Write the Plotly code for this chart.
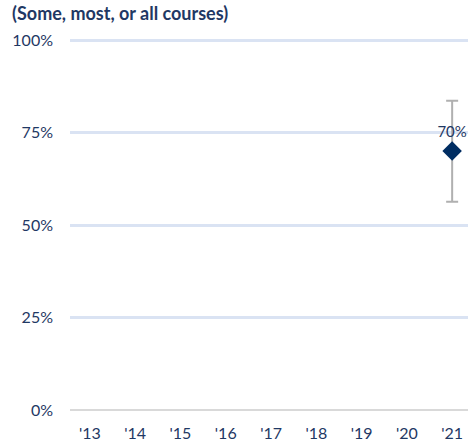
import plotly.graph_objects as go

years = [2013, 2014, 2015, 2016, 2017, 2018, 2019, 2020, 2021]
year_labels = ["'13", "'14", "'15", "'16", "'17", "'18", "'19", "'20", "'21"]

point_years = [2021]
point_values = [70]
err_plus = [13.6]
err_minus = [13.7]
point_labels = ["70%"]

pct_ticks = [0, 25, 50, 75, 100]
pct_labels = ["0%", "25%", "50%", "75%", "100%"]

navy = "#1f3864"

fig = go.Figure()
fig.add_trace(
    go.Scatter(
        x=point_years,
        y=point_values,
        mode="markers+text",
        text=point_labels,
        textposition="top center",
        textfont=dict(size=15, color=navy),
        marker=dict(symbol="diamond", size=15, color="#002d62"),
        error_y=dict(
            type="data",
            symmetric=False,
            array=err_plus,
            arrayminus=err_minus,
            color="#b0b0b0",
            thickness=2,
            width=6,
        ),
        showlegend=False,
        cliponaxis=False,
    )
)

fig.update_layout(
    width=468,
    height=448,
    margin=dict(l=70, r=0, t=36, b=38),
    plot_bgcolor="white",
    paper_bgcolor="white",
    font=dict(family="Lato, Open Sans, sans-serif", color=navy, size=16),
    title=dict(
        text="<b>(Some, most, or all courses)</b>",
        xref="container",
        yref="container",
        x=12 / 468,
        xanchor="left",
        y=1 - 14 / 448,
        yanchor="middle",
        font=dict(size=18, color=navy),
    ),
    xaxis=dict(
        tickmode="array",
        tickvals=years,
        ticktext=year_labels,
        range=[2012.56, 2021.35],
        showgrid=False,
        zeroline=False,
        showline=False,
        ticks="",
        ticklabelstandoff=12,
    ),
    yaxis=dict(
        range=[0, 101.08],
        tickvals=pct_ticks,
        ticktext=pct_labels,
        showgrid=True,
        gridcolor="#dae3f3",
        gridwidth=3,
        zeroline=True,
        zerolinecolor="#d9d9d9",
        zerolinewidth=2,
        ticks="",
        ticklabelstandoff=16,
    ),
)

# drop the default body margin so the 468x448 figure fits the window
fig.write_html(
    "out.html",
    config={"displayModeBar": False},
    post_script="document.body.style.margin='0';",
)
